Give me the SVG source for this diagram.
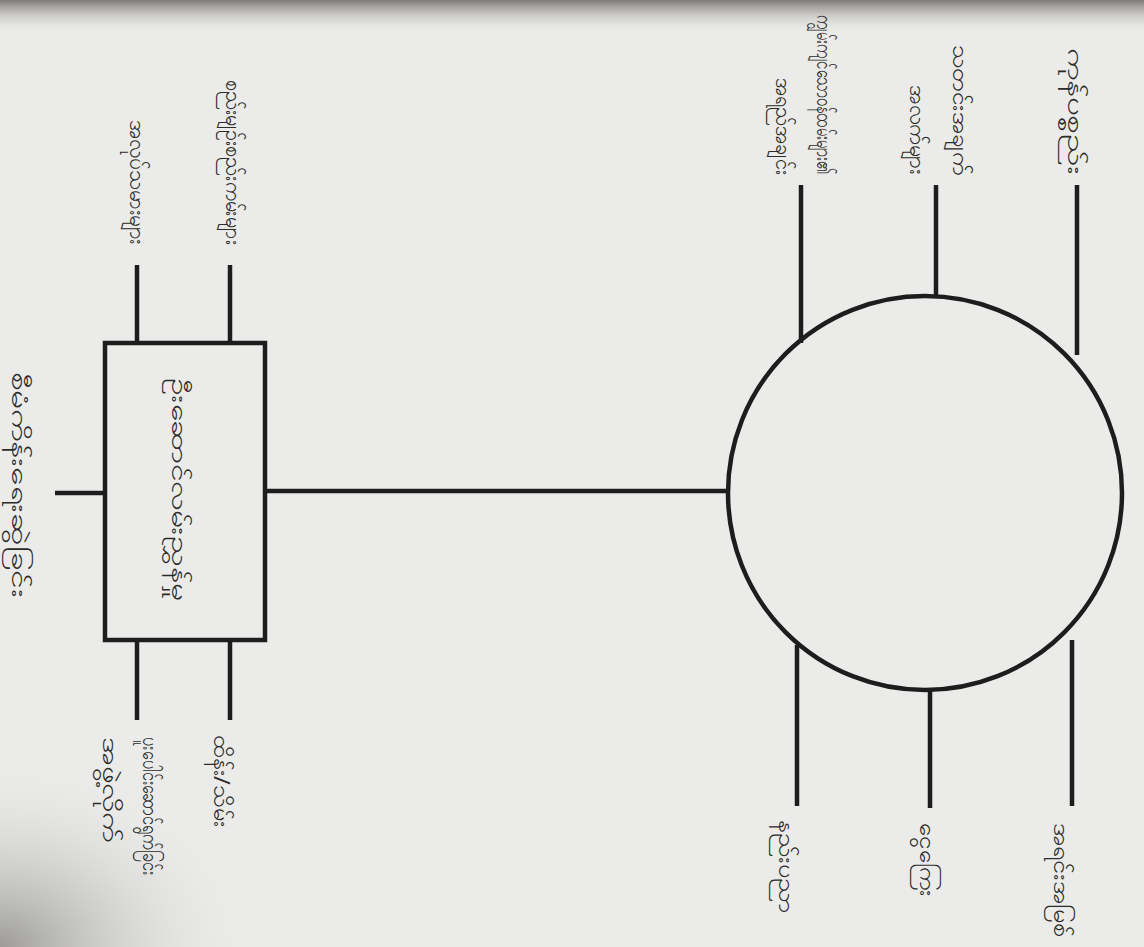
<svg xmlns="http://www.w3.org/2000/svg" width="1144" height="947" viewBox="0 0 1144 947">
<defs>
<linearGradient id="topEdge" x1="0" y1="0" x2="0" y2="1">
<stop offset="0" stop-color="#7e7c78"/>
<stop offset="1" stop-color="#ebebe9" stop-opacity="0"/>
</linearGradient>
<radialGradient id="shadow" cx="0" cy="1" r="0.5">
<stop offset="0" stop-color="#9c9b97"/>
<stop offset="1" stop-color="#ebebe9" stop-opacity="0"/>
</radialGradient>
<style>
.ln{stroke:#1d1d1d;stroke-width:4.5;fill:none;stroke-linecap:butt}
.lb{font-family:"Noto Sans","DejaVu Sans",sans-serif;font-size:22px;fill:#2b2b2b}
</style>
</defs>
<rect width="1144" height="947" fill="#ebebe9"/>
<rect width="1144" height="34" fill="url(#topEdge)"/>
<rect x="0" y="560" width="520" height="387" fill="url(#shadow)"/>
<g id="connectors">
<line class="ln" x1="55" y1="493" x2="105" y2="493"/>
<line class="ln" x1="137" y1="265" x2="137" y2="343"/>
<line class="ln" x1="230" y1="265" x2="230" y2="343"/>
<line class="ln" x1="137" y1="640" x2="137" y2="720"/>
<line class="ln" x1="230" y1="640" x2="230" y2="720"/>
<line class="ln" x1="265" y1="491" x2="728" y2="491"/>
<line class="ln" x1="801" y1="185" x2="801" y2="343"/>
<line class="ln" x1="936" y1="185" x2="936" y2="297"/>
<line class="ln" x1="1077" y1="185" x2="1077" y2="355"/>
<line class="ln" x1="797" y1="645" x2="797" y2="806"/>
<line class="ln" x1="930" y1="689" x2="930" y2="808"/>
<line class="ln" x1="1072" y1="640" x2="1072" y2="806"/>
</g>
<g id="box"><rect class="ln" x="105" y="343" width="160" height="297"/>
<text class="lb" x="172" y="378" textLength="222" lengthAdjust="spacingAndGlyphs" transform="rotate(90 172 378)">ဦးဆောင်လမ်းညွှန်မှု</text></g>
<g id="circle"><circle class="ln" cx="925" cy="493" r="197"/></g>
<g id="title"><text class="lb" x="12" y="372" textLength="226" lengthAdjust="spacingAndGlyphs" transform="rotate(90 12 372)">စီမံကိန်းရေးဆွဲခြင်း</text></g>
<g id="box-top-left"><text class="lb" x="130" y="120" textLength="125" lengthAdjust="spacingAndGlyphs" transform="rotate(90 130 120)">အလုပ်သမားများ</text></g>
<g id="box-top-right"><text class="lb" x="226" y="80" textLength="165" lengthAdjust="spacingAndGlyphs" transform="rotate(90 226 80)">စည်းမျဉ်းစည်းကမ်းများ</text></g>
<g id="box-bottom-left"><text class="lb" x="143" y="737" textLength="138" lengthAdjust="spacingAndGlyphs" transform="rotate(90 143 737)">ပူးပေါင်းဆောင်ရွက်ခြင်း</text>
<text class="lb" x="103" y="737" textLength="105" lengthAdjust="spacingAndGlyphs" transform="rotate(90 103 737)">အဖွဲ့လိုက်</text></g>
<g id="box-bottom-right"><text class="lb" x="214" y="735" textLength="92" lengthAdjust="spacingAndGlyphs" transform="rotate(90 214 735)">ထိန်း/သိမ်း</text></g>
<g id="circle-top-left"><text class="lb" x="817" y="15" textLength="160" lengthAdjust="spacingAndGlyphs" transform="rotate(90 817 15)">ကျွမ်းကျင်သောဝန်ထမ်းများ၏</text>
<text class="lb" x="776" y="78" textLength="97" lengthAdjust="spacingAndGlyphs" transform="rotate(90 776 78)">အရည်အချင်း</text></g>
<g id="circle-top-mid"><text class="lb" x="953" y="45" textLength="130" lengthAdjust="spacingAndGlyphs" transform="rotate(90 953 45)">သတင်းအချက်</text>
<text class="lb" x="910" y="85" textLength="90" lengthAdjust="spacingAndGlyphs" transform="rotate(90 910 85)">အလက်များ</text></g>
<g id="circle-top-right"><text class="lb" x="1068" y="48" textLength="127" lengthAdjust="spacingAndGlyphs" transform="rotate(90 1068 48)">ကုန်ပစ္စည်း</text></g>
<g id="circle-bottom-left"><text class="lb" x="779" y="820" textLength="93" lengthAdjust="spacingAndGlyphs" transform="rotate(90 779 820)">နည်းပညာ</text></g>
<g id="circle-bottom-mid"><text class="lb" x="920" y="823" textLength="74" lengthAdjust="spacingAndGlyphs" transform="rotate(90 920 823)">ငွေကြေး</text></g>
<g id="circle-bottom-right"><text class="lb" x="1054" y="823" textLength="114" lengthAdjust="spacingAndGlyphs" transform="rotate(90 1054 823)">အရင်းအမြစ်</text></g>
</svg>
